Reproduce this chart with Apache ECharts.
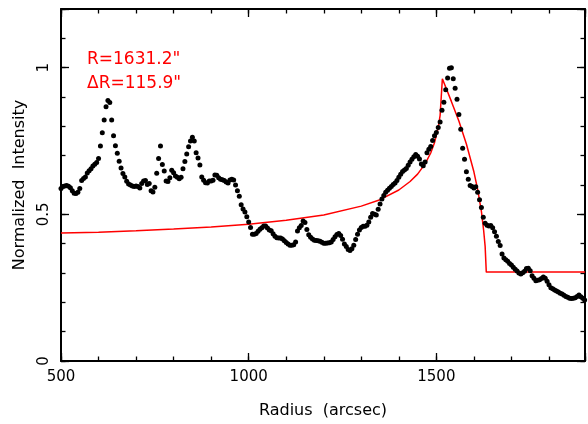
<!DOCTYPE html>
<html>
<head>
<meta charset="utf-8">
<script src="https://cdn.jsdelivr.net/npm/echarts@6/dist/echarts.min.js"></script>
<style>
html,body{margin:0;padding:0;background:#fff;}
#chart{width:588px;height:424px;}
</style>
</head>
<body>
<div id="chart"></div>
<script>
// ---- data ----
const radius = [
500,505,510,515,520,525,530,535,540,545,550,555,560,565,570,575,580,585,590,595,
600,605,610,615,620,625,630,635,640,645,650,655,660,665,670,675,680,685,690,695,
700,705,710,715,720,725,730,735,740,745,750,755,760,765,770,775,780,785,790,795,
800,805,810,815,820,825,830,835,840,845,850,855,860,865,870,875,880,885,890,895,
900,905,910,915,920,925,930,935,940,945,950,955,960,965,970,975,980,985,990,995,
1000,1005,1010,1015,1020,1025,1030,1035,1040,1045,1050,1055,1060,1065,1070,1075,1080,1085,1090,1095,
1100,1105,1110,1115,1120,1125,1130,1135,1140,1145,1150,1155,1160,1165,1170,1175,1180,1185,1190,1195,
1200,1205,1210,1215,1220,1225,1230,1235,1240,1245,1250,1255,1260,1265,1270,1275,1280,1285,1290,1295,
1300,1305,1310,1315,1320,1325,1330,1335,1340,1345,1350,1355,1360,1365,1370,1375,1380,1385,1390,1395,
1400,1405,1410,1415,1420,1425,1430,1435,1440,1445,1450,1455,1460,1465,1470,1475,1480,1485,1490,1495,
1500,1505,1510,1515,1520,1525,1530,1535,1540,1545,1550,1555,1560,1565,1570,1575,1580,1585,1590,1595,
1600,1605,1610,1615,1620,1625,1630,1635,1640,1645,1650,1655,1660,1665,1670,1675,1680,1685,1690,1695,
1700,1705,1710,1715,1720,1725,1730,1735,1740,1745,1750,1755,1760,1765,1770,1775,1780,1785,1790,1795,
1800,1805,1810,1815,1820,1825,1830,1835,1840,1845,1850,1855,1860,1865,1870,1875,1880,1885,1890,1895
];
const intensity = [
0.588,0.595,0.597,0.598,0.596,0.591,0.58,0.572,0.571,0.575,0.588,0.615,0.622,0.627,0.641,0.649,0.655,0.665,0.671,0.677,
0.69,0.733,0.778,0.822,0.867,0.888,0.881,0.822,0.768,0.734,0.708,0.681,0.658,0.639,0.627,0.613,0.603,0.6,0.597,0.595,
0.597,0.595,0.59,0.605,0.614,0.615,0.602,0.605,0.58,0.576,0.592,0.64,0.69,0.733,0.67,0.648,0.614,0.612,0.625,0.65,
0.642,0.631,0.626,0.621,0.626,0.655,0.68,0.706,0.73,0.75,0.763,0.75,0.71,0.692,0.668,0.627,0.616,0.608,0.607,0.614,
0.614,0.616,0.634,0.633,0.625,0.62,0.618,0.615,0.61,0.607,0.617,0.62,0.617,0.6,0.58,0.562,0.533,0.518,0.508,0.492,
0.474,0.455,0.432,0.432,0.435,0.442,0.449,0.454,0.46,0.46,0.453,0.447,0.444,0.434,0.425,0.42,0.419,0.419,0.416,0.41,
0.404,0.399,0.395,0.395,0.396,0.406,0.443,0.454,0.462,0.477,0.472,0.448,0.43,0.422,0.416,0.412,0.411,0.41,0.408,0.405,
0.401,0.401,0.402,0.403,0.406,0.414,0.424,0.431,0.435,0.428,0.415,0.399,0.39,0.38,0.377,0.383,0.395,0.414,0.432,0.447,
0.455,0.459,0.459,0.463,0.474,0.49,0.503,0.5,0.498,0.517,0.535,0.552,0.564,0.575,0.582,0.589,0.595,0.602,0.607,0.615,
0.626,0.637,0.646,0.651,0.656,0.667,0.678,0.688,0.696,0.704,0.698,0.689,0.672,0.666,0.678,0.71,0.722,0.731,0.752,0.768,
0.779,0.796,0.815,0.855,0.882,0.925,0.965,0.998,1.0,0.962,0.93,0.892,0.84,0.79,0.725,0.688,0.645,0.62,0.598,0.595,
0.59,0.594,0.575,0.55,0.523,0.49,0.47,0.463,0.46,0.462,0.454,0.441,0.425,0.407,0.394,0.365,0.351,0.345,0.34,0.332,
0.327,0.32,0.313,0.307,0.3,0.297,0.301,0.306,0.315,0.316,0.308,0.291,0.282,0.274,0.275,0.277,0.281,0.286,0.282,0.272,
0.26,0.25,0.246,0.242,0.239,0.235,0.231,0.228,0.224,0.22,0.217,0.214,0.213,0.214,0.216,0.22,0.225,0.219,0.214,0.208
];
const modelRadius = [500,600,700,800,900,1000,1100,1200,1300,1350,1400,1430,1450,1470,1485,1495,1505,1510,1516,1540,1560,1580,1600,1610,1620,1626,1630,1633,1896];
const modelIntensity = [0.436,0.439,0.444,0.45,0.457,0.466,0.48,0.498,0.528,0.55,0.583,0.612,0.637,0.672,0.709,0.744,0.796,0.837,0.962,0.885,0.818,0.74,0.645,0.585,0.51,0.445,0.39,0.303,0.303];
const xMin = 500, xMax = 1896, yMin = 0, yMax = 1.2;
const xMajor = 500, xMinor = 100, yMajor = 0.5, yMinor = 0.1;
const xTitle = 'Radius  (arcsec)';
const yTitle = 'Normalized  Intensity';
const annot1 = 'R=1631.2"';
const annot2 = '\u0394R=115.9"';

const FONT = 'DejaVu Sans';
const dots = radius.map((r, i) => [r, intensity[i]]);
const model = modelRadius.map((r, i) => [r, modelIntensity[i]]);

function xAx(pos, interval, len, showLine, showLabel) {
  return {
    type: 'value', position: pos, min: xMin, max: xMax, interval: interval,
    axisLine: {show: showLine, onZero: false, lineStyle: {color: '#000', width: 2}},
    axisTick: {show: true, inside: true, length: len, lineStyle: {color: '#000', width: 1.3}},
    axisLabel: {show: showLabel, color: '#000', fontFamily: FONT, fontSize: 15, margin: 9,
      formatter: v => (Math.abs(v % xMajor) < 1e-6 ? String(v) : '')},
    splitLine: {show: false},
    name: showLabel ? xTitle : '', nameLocation: 'middle', nameGap: 42,
    nameTextStyle: {color: '#000', fontFamily: FONT, fontSize: 16}
  };
}
function yAx(pos, interval, len, showLine, showLabel) {
  return {
    type: 'value', position: pos, min: yMin, max: yMax, interval: interval,
    axisLine: {show: showLine, onZero: false, lineStyle: {color: '#000', width: 2}},
    axisTick: {show: true, inside: true, length: len, lineStyle: {color: '#000', width: 1.3}},
    axisLabel: {show: showLabel, color: '#000', fontFamily: FONT, fontSize: 15, margin: 9, rotate: 90,
      formatter: v => {
        const t = v / yMajor;
        return (Math.abs(t - Math.round(t)) < 1e-6 && v <= 1.0001) ? String(Math.round(v * 10) / 10) : '';
      }},
    splitLine: {show: false},
    name: showLabel ? yTitle : '', nameLocation: 'middle', nameGap: 33, nameRotate: 90,
    nameTextStyle: {color: '#000', fontFamily: FONT, fontSize: 16}
  };
}

const chart = echarts.init(document.getElementById('chart'), null, {renderer: 'canvas'});
chart.setOption({
  animation: false,
  backgroundColor: '#fff',
  grid: {left: 61, right: 1, top: 9, bottom: 60, containLabel: false},
  xAxis: [
    xAx('bottom', xMinor, 4.5, true, true),
    xAx('bottom', xMajor, 8, false, false),
    xAx('top', xMinor, 4.5, true, false),
    xAx('top', xMajor, 8, false, false)
  ],
  yAxis: [
    yAx('left', yMinor, 4.5, true, true),
    yAx('left', yMajor, 8, false, false),
    yAx('right', yMinor, 4.5, true, false),
    yAx('right', yMajor, 8, false, false)
  ],
  graphic: [
    {type: 'text', left: 87, top: 51, style: {text: annot1, fill: '#ff0000', font: '17px "DejaVu Sans"'}},
    {type: 'text', left: 87, top: 75, style: {text: annot2, fill: '#ff0000', font: '17px "DejaVu Sans"'}}
  ],
  series: [
    {
      type: 'line', data: model, xAxisIndex: 0, yAxisIndex: 0,
      showSymbol: false, symbol: 'none', clip: true,
      lineStyle: {color: '#ff0000', width: 1.5}, z: 2
    },
    {
      type: 'scatter', data: dots, xAxisIndex: 0, yAxisIndex: 0,
      symbol: 'circle', symbolSize: 5, clip: true,
      itemStyle: {color: '#000', opacity: 1}, z: 3
    }
  ]
});
</script>
</body>
</html>
